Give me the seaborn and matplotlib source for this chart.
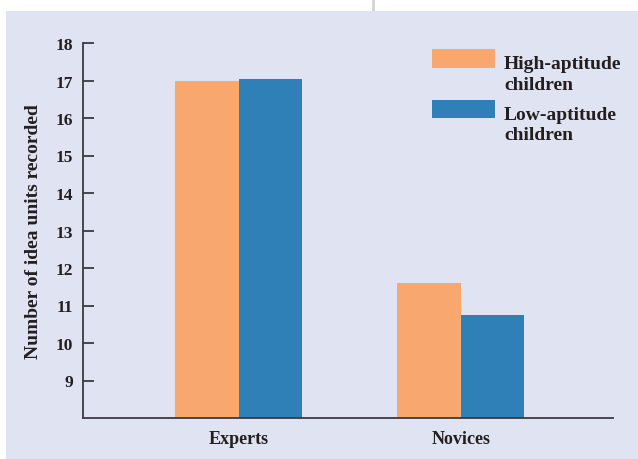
import matplotlib
matplotlib.use("Agg")
import matplotlib.pyplot as plt
import seaborn as sns
import pandas as pd
from matplotlib.patches import Rectangle, Patch
from matplotlib.lines import Line2D

# Recall scores by expertise group and aptitude level
groups = ["Experts", "Novices"]
high_aptitude = [17.0, 11.6]
low_aptitude = [17.05, 10.75]
series_names = ["High-aptitude\nchildren", "Low-aptitude\nchildren"]
y_ticks = [9, 10, 11, 12, 13, 14, 15, 16, 17, 18]

df = pd.DataFrame({
    "group": groups * 2,
    "aptitude": [series_names[0]] * 2 + [series_names[1]] * 2,
    "value": high_aptitude + low_aptitude,
})

ORANGE = "#f8a86f"
BLUE = "#2e80b6"
PANEL = "#e0e3f1"
INK = "#231f20"
AXIS = "#3a3b40"

sns.set_theme(style="white")
plt.rcParams["font.family"] = ["Liberation Serif", "DejaVu Serif"]
plt.rcParams["font.weight"] = "bold"

W, H = 638, 460
fig = plt.figure(figsize=(W / 100, H / 100), dpi=100, facecolor="white")

# Tinted panel behind the chart, plus the thin divider above it
fig.patches.append(Rectangle((6 / W, 0), 1 - 6 / W, (H - 12) / H,
                             transform=fig.transFigure, facecolor=PANEL,
                             edgecolor="none", zorder=-5))
fig.lines.append(Line2D([373 / W, 373 / W], [(H - 12) / H, 1],
                        transform=fig.transFigure, color="#d4d4d4", lw=2,
                        zorder=-5))

left, right = 83 / W, 613 / W
bottom, top = (H - 419) / H, (H - 44) / H
ax = fig.add_axes([left, bottom, right - left, top - bottom])
ax.set_facecolor("none")

sns.barplot(data=df, x="group", y="value", hue="aptitude",
            palette=[ORANGE, BLUE], saturation=1, width=0.572,
            linewidth=0, ax=ax, legend=False)

ax.set_ylim(8, 18)
ax.set_xlim(-0.70, 1.685)
ax.set_yticks(y_ticks)
ax.set_yticklabels([str(t) for t in y_ticks])

for s in ["top", "right"]:
    ax.spines[s].set_visible(False)
for s in ["left", "bottom"]:
    ax.spines[s].set_color(AXIS)
    ax.spines[s].set_linewidth(1.3)

ax.tick_params(axis="y", direction="in", length=8, width=1.3, color=AXIS,
               pad=7, labelsize=12.5, labelcolor=INK, left=True)
ax.tick_params(axis="x", length=0, pad=9, labelsize=13, labelcolor=INK)
for lbl in ax.get_xticklabels() + ax.get_yticklabels():
    lbl.set_fontweight("bold")

ax.set_xlabel("")
ax.set_ylabel("Number of idea units recorded", fontsize=14,
              fontweight="bold", color=INK, labelpad=10)

handles = [Patch(facecolor=ORANGE, edgecolor="none"),
           Patch(facecolor=BLUE, edgecolor="none")]
leg = ax.legend(handles, series_names, loc="upper left",
                bbox_to_anchor=((432 - 83) / (613 - 83), 0.968),
                frameon=False, handlelength=3.25,
                handleheight=1.08, handletextpad=0.46, labelspacing=0.65,
                borderaxespad=0, borderpad=0,
                prop={"weight": "bold", "size": 14})
for t in leg.get_texts():
    t.set_color(INK)
    t.set_linespacing(1.3)
# Line the swatches up with the first line of each label
for h in leg.legend_handles:
    h.set_y(h.get_y() + 11)

fig.savefig("out.png", dpi=100, facecolor="white")
